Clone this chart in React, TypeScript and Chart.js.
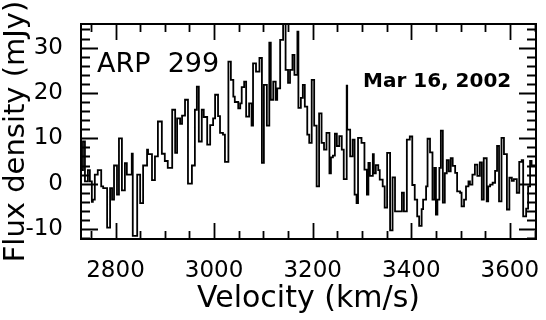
import React, { useEffect, useRef } from 'react';
import { Chart, registerables } from 'chart.js';

Chart.register(...registerables);

// Channel left-edge velocities (km/s) and flux densities (mJy)
const velocity = [
  2730, 2734, 2738, 2744, 2748, 2752, 2754, 2758, 2764, 2771,
  2775, 2783, 2789, 2793, 2797, 2803, 2807, 2813, 2819, 2823,
  2833, 2835, 2844, 2850, 2856, 2864, 2866, 2874, 2880, 2886,
  2894, 2900, 2906, 2915, 2921, 2925, 2931, 2935, 2941, 2947,
  2955, 2961, 2965, 2969, 2975, 2979, 2986, 2992, 2998, 3002,
  3008, 3012, 3018, 3022, 3029, 3034, 3039, 3042, 3049, 3053,
  3056, 3061, 3065, 3071, 3076, 3079, 3085, 3092, 3097, 3101,
  3107, 3112, 3115, 3120, 3125, 3128, 3134, 3140, 3145, 3150,
  3154, 3159, 3163, 3169, 3171, 3176, 3180, 3184, 3189, 3193,
  3198, 3203, 3208, 3213, 3218, 3223, 3228, 3234, 3237, 3241,
  3245, 3249, 3254, 3259, 3263, 3269, 3270, 3276, 3281, 3285,
  3289, 3292, 3299, 3305, 3310, 3313, 3316, 3322, 3324, 3328,
  3333, 3336, 3342, 3346, 3351, 3357, 3362, 3367, 3381, 3385,
  3391, 3397, 3402, 3407, 3412, 3416, 3421, 3424, 3430, 3433,
  3438, 3443, 3447, 3450, 3453, 3457, 3460, 3464, 3468, 3472,
  3476, 3480, 3484, 3489, 3493, 3499, 3502, 3507, 3511, 3516,
  3519, 3524, 3529, 3534, 3539, 3543, 3547, 3553, 3556, 3560,
  3565, 3570, 3574, 3578, 3583, 3588, 3594, 3599, 3604, 3608,
  3614, 3619, 3624, 3627, 3633, 3637, 3641, 3644, 3649, 3654,
];
const flux = [
  1, 3, 9.3, 0.5, 3, 0.5, -4, -3.5, 2, 3,
  -0.6, -1, -9.7, -1, -3.5, 4, -2.4, 10, -1.5, 4.5,
  2, 6.6, -11.5, 2, -4.3, 4, 7.5, 6.5, 0.8, 6,
  13.7, 6.6, 5, 3.5, 16.3, 6.8, 14.4, 13.2, 15, 18.5,
  0, 4, 16.3, 21.4, 9.3, 16.3, 14.7, 8.6, 12.9, 14.4,
  19.6, 14.9, 11.2, 10.8, 4.8, 26.9, 22.9, 19.2, 18, 16.6,
  17.7, 21.3, 22.5, 14.8, 17.7, 12.8, 26.5, 24.7, 27.7, 4.6,
  21.8, 12.8, 31.1, 18.5, 22.5, 18.5, 21, 31.7, 36, 25.1,
  22.2, 25.1, 28.4, 24, 33.5, 16.7, 18.9, 21.8, 17, 10.8,
  9, 22.9, 12.8, -0.6, 15.5, 9, 7.5, 11.2, 2.3, 5.8,
  6.2, 11, 8.3, 10.5, 7.5, 1, 21.6, 11.9, 6, 9.7,
  -2.4, -4.3, 10.1, 9, 3.1, -2.4, 4.6, 1.7, 6.5, 2.3,
  4.1, 3, 0.9, -0.6, -5.3, 6.8, -10.3, 1.4, -6.1, -2,
  -6.1, 9.7, 10.4, -0.3, -3.5, -7.2, -9.3, -5.6, -3.5, -0.6,
  9.9, 6.9, -3.5, 3.5, -6.8, -3.5, 3.5, 11.7, -4.2, 2.3,
  5.2, 2.7, 5.6, 3.9, 2.4, -1.7, -2, -5, -3.5, -0.6,
  0.5, -0.2, 2, 4.2, 1.7, 4.7, -3.5, 5.6, -3.9, -0.6,
  -0.2, 0.2, 2.8, 8.3, -3.9, 10.1, 6.5, -5.7, 1.3, 0.6,
  1, -2, 4.8, 5.2, -7.2, -5.5, -0.6, 5, 4, 4,
];

const xMajorTicks = [2800, 3000, 3200, 3400, 3600];
const yMajorTicks = [-10, 0, 10, 20, 30];
const xMinorStep = 50;
const yMinorStep = 2;
const xRange = [2730, 3653];
const yRange = [-12.2, 35.2];

const xTitle = 'Velocity (km/s)';
const yTitle = 'Flux density (mJy)';
const objectLabel = 'ARP  299';
const dateLabel = 'Mar 16, 2002';

const FONT = '"DejaVu Sans", "Liberation Sans", sans-serif';

const framePlugin = {
  id: 'idlFrame',
  afterDatasetsDraw(chart: any) {
    const { ctx, chartArea: a, scales } = chart;
    const xs = scales.x;
    const ys = scales.y;
    ctx.save();
    ctx.strokeStyle = '#000';
    ctx.lineWidth = 1.8;
    ctx.beginPath();
    const xStart = Math.ceil(xRange[0] / xMinorStep) * xMinorStep;
    for (let v = xStart; v <= xRange[1]; v += xMinorStep) {
      const px = Math.round(xs.getPixelForValue(v)) + 0.5;
      const len = xMajorTicks.includes(v) ? 16 : 8;
      ctx.moveTo(px, a.bottom);
      ctx.lineTo(px, a.bottom - len);
      ctx.moveTo(px, a.top);
      ctx.lineTo(px, a.top + len);
    }
    const yStart = Math.ceil(yRange[0] / yMinorStep) * yMinorStep;
    for (let v = yStart; v <= yRange[1]; v += yMinorStep) {
      const py = Math.round(ys.getPixelForValue(v)) + 0.5;
      const len = yMajorTicks.includes(v) ? 17 : 9;
      ctx.moveTo(a.left, py);
      ctx.lineTo(a.left + len, py);
      ctx.moveTo(a.right, py);
      ctx.lineTo(a.right - len, py);
    }
    ctx.stroke();
    ctx.lineWidth = 2;
    ctx.strokeRect(a.left, a.top, a.right - a.left, a.bottom - a.top);

    ctx.fillStyle = '#000';
    ctx.textBaseline = 'alphabetic';
    ctx.textAlign = 'left';
    ctx.font = `27px ${FONT}`;
    ctx.fillText(objectLabel, a.left + 16, a.top + 48);
    ctx.font = `bold 20px ${FONT}`;
    ctx.fillText(dateLabel, a.left + 282, a.top + 63);
    ctx.restore();
  },
};

const noPad = (s: any) => {
  s.paddingLeft = 0;
  s.paddingRight = 0;
  s.paddingTop = 0;
  s.paddingBottom = 0;
};

export default function App() {
  const ref = useRef<HTMLCanvasElement | null>(null);

  useEffect(() => {
    document.body.style.margin = '0';
    const canvas = ref.current;
    if (!canvas) return;
    const points = velocity.map((v, i) => ({ x: v, y: flux[i] }));
    const chart = new Chart(canvas, {
      type: 'line',
      data: {
        datasets: [
          {
            data: points,
            stepped: 'after',
            borderColor: '#000',
            borderWidth: 1.8,
            pointRadius: 0,
            fill: false,
          },
        ],
      },
      options: {
        responsive: false,
        animation: false,
        devicePixelRatio: 1,
        layout: { padding: { left: 0, right: 10, top: 24, bottom: 0 } },
        plugins: {
          legend: { display: false },
          tooltip: { enabled: false },
        },
        scales: {
          x: {
            type: 'linear',
            min: xRange[0],
            max: xRange[1],
            grid: { display: false, drawTicks: false },
            border: { display: false },
            afterBuildTicks: (s: any) => {
              s.ticks = xMajorTicks.map((v) => ({ value: v }));
            },
            afterFit: (s: any) => {
              s.height = 81;
              noPad(s);
            },
            ticks: {
              color: '#000',
              padding: 18,
              maxRotation: 0,
              autoSkip: false,
              font: { family: FONT, size: 23 },
              callback: (v: any) => String(v),
            },
            title: {
              display: true,
              text: xTitle,
              color: '#000',
              font: { family: FONT, size: 30, lineHeight: 1 },
              padding: { top: 0, bottom: 6 },
            },
          },
          y: {
            type: 'linear',
            min: yRange[0],
            max: yRange[1],
            grid: { display: false, drawTicks: false },
            border: { display: false },
            afterBuildTicks: (s: any) => {
              s.ticks = yMajorTicks.map((v) => ({ value: v }));
            },
            afterFit: (s: any) => {
              s.width = 81;
              noPad(s);
            },
            ticks: {
              color: '#000',
              padding: 18,
              autoSkip: false,
              font: { family: FONT, size: 23 },
              callback: (v: any) => String(v),
            },
            title: {
              display: true,
              text: yTitle,
              color: '#000',
              font: { family: FONT, size: 29, lineHeight: 1 },
              padding: { top: 2, bottom: 0 },
            },
          },
        },
      },
      plugins: [framePlugin],
    });
    return () => chart.destroy();
  }, []);

  return (
    <div style={{ width: 546, height: 320 }}>
      <canvas ref={ref} width={546} height={320} style={{ display: 'block' }} />
    </div>
  );
}
